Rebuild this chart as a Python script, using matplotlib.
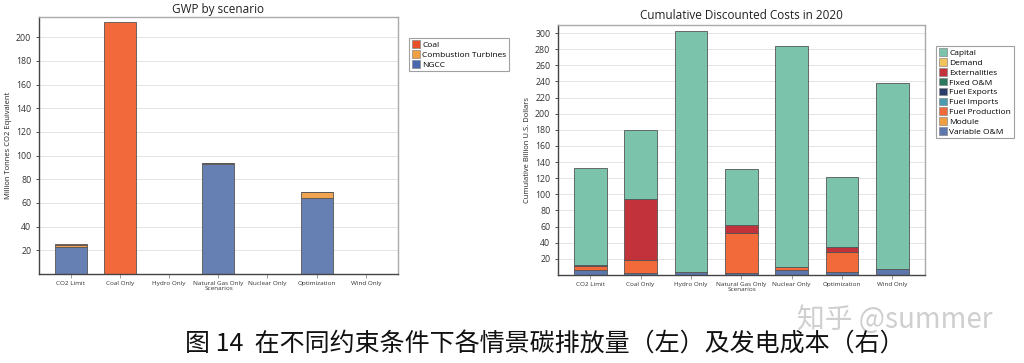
import matplotlib
matplotlib.use("Agg")
import matplotlib.pyplot as plt
import numpy as np

scenarios = ["CO2 Limit", "Coal Only", "Hydro Only", "Natural Gas Only",
             "Nuclear Only", "Optimization", "Wind Only"]

# Left chart: GWP (Million tonnes CO2 eq)
gwp_series = ["Coal", "Combustion Turbines", "NGCC"]
gwp_coal = [0.5, 213, 0, 0, 0, 0, 0]
gwp_ct = [2, 0, 0, 0.5, 0, 5, 0]
gwp_ngcc = [22.5, 0, 0, 93, 0, 64, 0]
gwp_colors = ["#F26A3C", "#F0A350", "#6680B3"]
gwp_legend_colors = ["#E8502A", "#F0A040", "#4A68AE"]

# Right chart: Cumulative discounted costs (Billion USD)
cost_series = ["Capital", "Demand", "Externalities", "Fixed O&M", "Fuel Exports",
               "Fuel Imports", "Fuel Production", "Module", "Variable O&M"]
cost_capital = [120.5, 86, 299, 68.5, 273.5, 86, 230]
cost_demand = [0, 0, 0, 0, 0, 0, 0]
cost_extern = [1.5, 76, 0, 10, 0.5, 6, 0]
cost_fixed = [0, 0, 0, 0, 0, 0, 0]
cost_fexp = [0, 0, 0, 0, 0, 0, 0]
cost_fimp = [0, 0, 0, 0, 0, 0, 0]
cost_fprod = [5, 16, 0, 50.5, 4, 25, 0]
cost_module = [0, 0, 0, 0, 0, 0, 0]
cost_varom = [6, 2, 4, 2, 6, 4, 8]
cost_colors = ["#7CC3AB", "#F2C35B", "#C2323A", "#2B7A5E", "#2A3C6C",
               "#4A9AB2", "#F26A3A", "#F0A040", "#5B77AE"]

plt.rcParams['font.family'] = ['Open Sans', 'DejaVu Sans']

fig = plt.figure(figsize=(10.24, 3.63), dpi=100)
W, H = 1024, 363

def px_axes(x0, y0, x1, y1):
    return fig.add_axes([x0 / W, (H - y1) / H, (x1 - x0) / W, (y1 - y0) / H])

def style(ax, ylim, ticks):
    ax.set_xlim(-0.64, 6.65)
    ax.set_ylim(0, ylim)
    ax.set_yticks(ticks)
    ax.set_xticks(range(len(scenarios)))
    ax.set_xticklabels(scenarios, fontsize=4.6, color="#333333")
    ax.tick_params(axis='y', labelsize=6.3, colors="#333333", length=2, width=0.6)
    ax.tick_params(axis='x', length=3, width=0.6, colors="#888888", labelcolor="#333333", pad=2)
    ax.grid(axis='y', color="#E4E4E4", linewidth=0.7)
    ax.set_axisbelow(True)
    for s in ["top", "right"]:
        ax.spines[s].set_color("#AAAAAA")
        ax.spines[s].set_linewidth(1.0)
    for s in ["left", "bottom"]:
        ax.spines[s].set_color("#444444")
        ax.spines[s].set_linewidth(1.0)
    ax.set_xlabel("Scenarios", fontsize=4.6, color="#333333", labelpad=0)

x = np.arange(len(scenarios))

# Left chart
ax1 = px_axes(39, 17, 398, 274)
bottom = np.zeros(len(scenarios))
left_stack = [(gwp_ngcc, 2), (gwp_ct, 1), (gwp_coal, 0)]
for vals, ci in left_stack:
    vals = np.array(vals, dtype=float)
    ax1.bar(x, vals, 0.65, bottom=bottom, color=gwp_colors[ci],
            edgecolor="#555555", linewidth=0.6)
    bottom += vals
style(ax1, 217, list(range(20, 201, 20)))
ax1.set_title("GWP by scenario", fontsize=8.5, color="#222222", pad=3)
ax1.set_ylabel("Million Tonnes CO2 Equivalent", fontsize=5.5, color="#222222", labelpad=3)
handles = [plt.Rectangle((0, 0), 1, 1, facecolor=c, edgecolor="#888888", linewidth=0.5)
           for c in gwp_legend_colors]
leg1 = fig.legend(handles, gwp_series, loc="upper left",
                  bbox_to_anchor=(409 / W, 1 - 38 / H), fontsize=6,
                  frameon=True, fancybox=False, edgecolor="#888888",
                  borderpad=0.3, labelspacing=0.15, handlelength=1.0,
                  handleheight=1.0, handletextpad=0.3, borderaxespad=0)
leg1.get_frame().set_linewidth(0.8)

# Right chart
ax2 = px_axes(558, 25, 925, 275)
bottom = np.zeros(len(scenarios))
right_stack = [(cost_varom, 8), (cost_module, 7), (cost_fprod, 6), (cost_fimp, 5),
               (cost_fexp, 4), (cost_fixed, 3), (cost_extern, 2), (cost_demand, 1),
               (cost_capital, 0)]
for vals, ci in right_stack:
    vals = np.array(vals, dtype=float)
    ax2.bar(x, vals, 0.65, bottom=bottom, color=cost_colors[ci],
            edgecolor="#555555", linewidth=0.6)
    bottom += vals
style(ax2, 310, list(range(20, 301, 20)))
ax2.set_title("Cumulative Discounted Costs in 2020", fontsize=8.5, color="#222222", pad=4)
ax2.set_ylabel("Cumulative Billion U.S. Dollars", fontsize=5.5, color="#222222", labelpad=3)
handles = [plt.Rectangle((0, 0), 1, 1, facecolor=c, edgecolor="#888888", linewidth=0.5)
           for c in cost_colors]
leg2 = fig.legend(handles, cost_series, loc="upper left",
                  bbox_to_anchor=(936 / W, 1 - 46 / H), fontsize=6,
                  frameon=True, fancybox=False, edgecolor="#888888",
                  borderpad=0.3, labelspacing=0.15, handlelength=1.0,
                  handleheight=1.0, handletextpad=0.3, borderaxespad=0)
leg2.get_frame().set_linewidth(0.8)

# Watermark and caption
fig.text(895 / W, 1 - 320 / H, "知乎 @summer", fontsize=20, color="#CFCFCF",
         ha="center", va="center", family=['Noto Sans CJK SC', 'DejaVu Sans'])
fig.text(545 / W, 1 - 345 / H, "图 14  在不同约束条件下各情景碳排放量（左）及发电成本（右）",
         fontsize=18, color="#111111", ha="center", va="center",
         family=['Noto Sans CJK SC', 'DejaVu Sans'])

fig.savefig("out.png", dpi=100)
